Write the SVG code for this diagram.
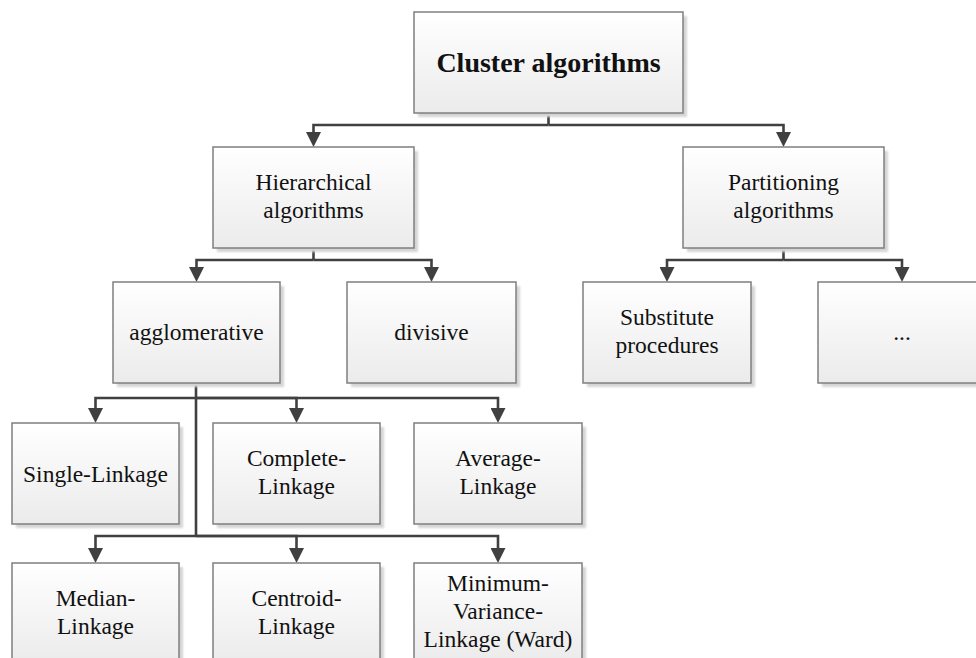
<svg xmlns="http://www.w3.org/2000/svg" width="976" height="658" viewBox="0 0 976 658">
<style>
.box{fill:url(#g);stroke:#7f7f7f;stroke-width:1.5}
.sh{fill:#d4d4d4;filter:url(#blur)}
.t{font-family:"Liberation Serif","Times New Roman",serif;font-size:23.5px;fill:#111;text-anchor:middle}
.b{font-size:28px;font-weight:bold}
.c{fill:none;stroke:#404040;stroke-width:2.6;marker-end:url(#ah)}
.n{fill:none;stroke:#404040;stroke-width:2.6}
</style>
<defs>
<linearGradient id="g" x1="0" y1="0" x2="0" y2="1">
<stop offset="0" stop-color="#ffffff"/>
<stop offset="1" stop-color="#ebebeb"/>
</linearGradient>
<filter id="blur" x="-5%" y="-5%" width="110%" height="110%"><feGaussianBlur stdDeviation="1.2"/></filter>
<marker id="ah" markerUnits="userSpaceOnUse" viewBox="0 0 15 15" markerWidth="15" markerHeight="15" refX="3" refY="7.5" orient="auto">
<path d="M0,0 L15,7.5 L0,15 Z" fill="#404040"/>
</marker>
</defs>
<rect width="976" height="658" fill="#fff"/>
<g id="connectors">
<path class="n" d="M548.5,113 V125"/>
<path class="c" d="M548.5,125 H313.5 V135"/>
<path class="c" d="M548.5,125 H783.5 V135"/>
<path class="n" d="M313.5,248 V260"/>
<path class="c" d="M313.5,260 H196.5 V270"/>
<path class="c" d="M313.5,260 H431.5 V270"/>
<path class="n" d="M783.5,248 V260"/>
<path class="c" d="M783.5,260 H667 V270"/>
<path class="c" d="M783.5,260 H902 V270"/>
<path class="n" d="M196,383 V537"/>
<path class="c" d="M196,398 H95.5 V411"/>
<path class="c" d="M196,398 H296.5 V411"/>
<path class="c" d="M196,398 H498 V411"/>
<path class="c" d="M196,536 H95.5 V551"/>
<path class="c" d="M196,536 H296.5 V551"/>
<path class="c" d="M196,536 H498 V551"/>
</g>
<g id="n-cluster">
<rect class="sh" x="418" y="16" width="269" height="101"/>
<rect class="box" x="414" y="12" width="269" height="101"/>
<text class="t b" x="548.5" y="72">Cluster algorithms</text>
</g>
<g id="n-hier">
<rect class="sh" x="217" y="151" width="201" height="101"/>
<rect class="box" x="213" y="147" width="201" height="101"/>
<text class="t" x="313.5" y="190">Hierarchical</text>
<text class="t" x="313.5" y="218">algorithms</text>
</g>
<g id="n-part">
<rect class="sh" x="687" y="151" width="201" height="101"/>
<rect class="box" x="683" y="147" width="201" height="101"/>
<text class="t" x="783.5" y="190">Partitioning</text>
<text class="t" x="783.5" y="218">algorithms</text>
</g>
<g id="n-agglo">
<rect class="sh" x="117" y="286" width="167" height="101"/>
<rect class="box" x="113" y="282" width="167" height="101"/>
<text class="t" x="196.5" y="340">agglomerative</text>
</g>
<g id="n-div">
<rect class="sh" x="351" y="286" width="169" height="101"/>
<rect class="box" x="347" y="282" width="169" height="101"/>
<text class="t" x="431.5" y="340">divisive</text>
</g>
<g id="n-subst">
<rect class="sh" x="587" y="286" width="168" height="101"/>
<rect class="box" x="583" y="282" width="168" height="101"/>
<text class="t" x="667" y="325">Substitute</text>
<text class="t" x="667" y="353">procedures</text>
</g>
<g id="n-more">
<rect class="sh" x="822" y="286" width="168" height="101"/>
<rect class="box" x="818" y="282" width="168" height="101"/>
<text class="t" x="902" y="340">...</text>
</g>
<g id="n-single">
<rect class="sh" x="16" y="427" width="167" height="101"/>
<rect class="box" x="12" y="423" width="167" height="101"/>
<text class="t" x="95.5" y="482">Single-Linkage</text>
</g>
<g id="n-complete">
<rect class="sh" x="217" y="427" width="167" height="101"/>
<rect class="box" x="213" y="423" width="167" height="101"/>
<text class="t" x="296.5" y="466">Complete-</text>
<text class="t" x="296.5" y="494">Linkage</text>
</g>
<g id="n-average">
<rect class="sh" x="418" y="427" width="168" height="101"/>
<rect class="box" x="414" y="423" width="168" height="101"/>
<text class="t" x="498" y="466">Average-</text>
<text class="t" x="498" y="494">Linkage</text>
</g>
<g id="n-median">
<rect class="sh" x="16" y="567" width="167" height="101"/>
<rect class="box" x="12" y="563" width="167" height="101"/>
<text class="t" x="95.5" y="606">Median-</text>
<text class="t" x="95.5" y="634">Linkage</text>
</g>
<g id="n-centroid">
<rect class="sh" x="217" y="567" width="167" height="101"/>
<rect class="box" x="213" y="563" width="167" height="101"/>
<text class="t" x="296.5" y="606">Centroid-</text>
<text class="t" x="296.5" y="634">Linkage</text>
</g>
<g id="n-minvar">
<rect class="sh" x="418" y="567" width="168" height="101"/>
<rect class="box" x="414" y="563" width="168" height="101"/>
<text class="t" x="498" y="591">Minimum-</text>
<text class="t" x="498" y="619">Variance-</text>
<text class="t" x="498" y="647">Linkage (Ward)</text>
</g>
</svg>
